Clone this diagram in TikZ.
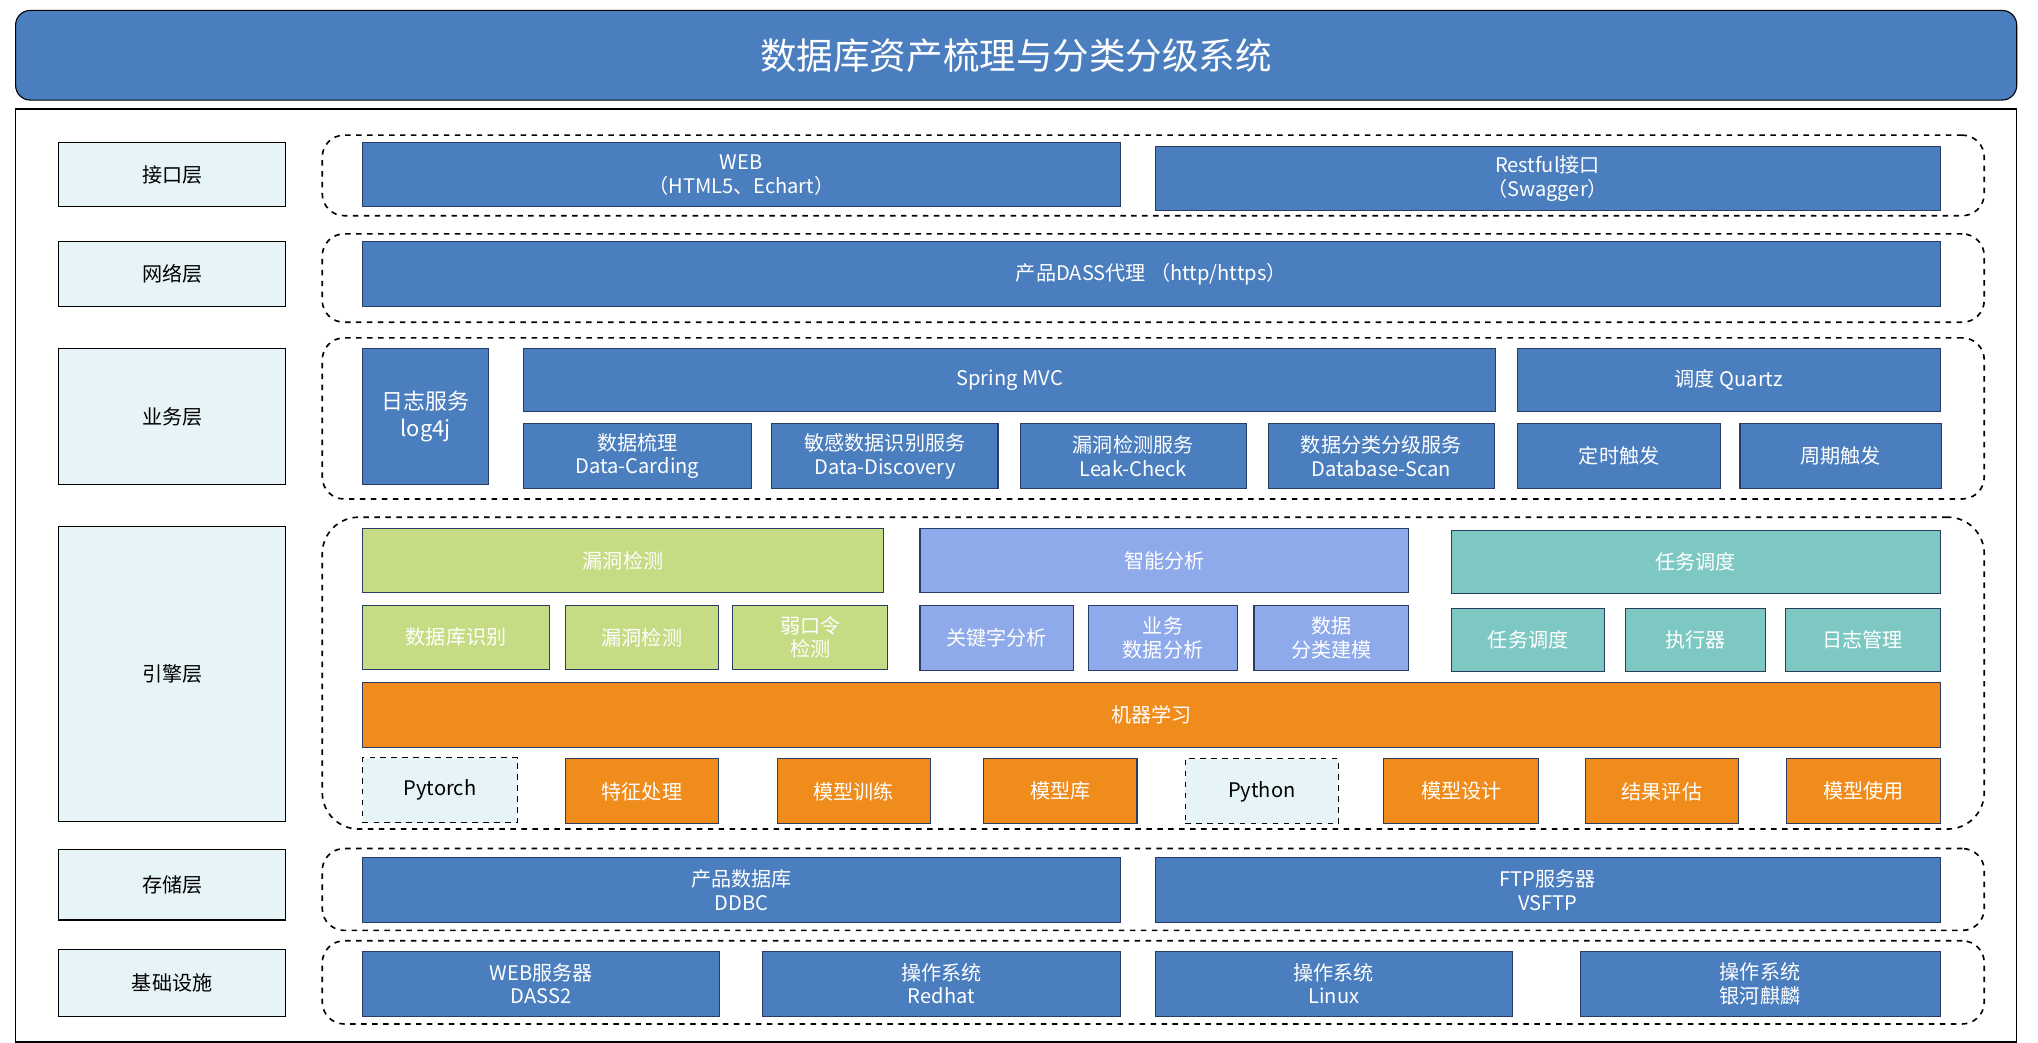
\documentclass[tikz,border=0pt]{standalone}
\usepackage{fontspec}
\setmainfont{Noto Sans CJK SC}
\begin{document}
\definecolor{bl}{RGB}{74,126,191}
\definecolor{bld}{RGB}{40,60,100}
\definecolor{lc}{RGB}{230,244,248}
\definecolor{gr}{RGB}{198,220,132}
\definecolor{pu}{RGB}{142,170,234}
\definecolor{te}{RGB}{126,200,196}
\definecolor{or}{RGB}{240,140,28}
\begin{tikzpicture}[
 base/.style={draw=bld,line width=0.6pt,inner sep=0pt,align=center,font=\fontsize{11}{13}\selectfont,text=white},
 blue/.style={base,fill=bl},
 lab/.style={base,draw=black,fill=lc,text=black},
 dlab/.style={base,draw=black,fill=lc,text=black,dashed},
 green/.style={base,fill=gr},
 purp/.style={base,fill=pu},
 teal/.style={base,fill=te},
 orng/.style={base,fill=or},
 grp/.style={draw=black,dashed,line width=0.9pt,rounded corners=12pt,inner sep=0pt},
]
\newcommand\bx[7]{\node[#1,minimum width={#4*0.025cm-#2*0.025cm},minimum height={#5*0.025cm-#3*0.025cm}] (#6) at ({(#2+#4)/2*0.025},{-(#3+#5)/2*0.025}) {#7};}
\useasboundingbox[fill=white] (0,0) rectangle (39.2,-20.05);
% title
\bx{blue,rounded corners=8pt,draw=black,font=\fontsize{20}{24}\selectfont}{12}{8}{1552}{77}{title}{数据库资产梳理与分类分级系统}
\bx{draw=black,line width=0.8pt,inner sep=0pt}{12}{84}{1552}{802}{frame}{}
% groups
\bx{grp}{248}{104}{1527}{166}{g1}{}
\bx{grp}{248}{180}{1527}{248}{g2}{}
\bx{grp}{248}{260}{1527}{384}{g3}{}
\bx{grp,rounded corners=20pt}{248}{398}{1527}{638}{g4}{}
\bx{grp}{248}{653}{1527}{716}{g5}{}
\bx{grp}{248}{724}{1527}{788}{g6}{}
% labels
\bx{lab}{45}{110}{220}{159}{l1}{接口层}
\bx{lab}{45}{186}{220}{236}{l2}{网络层}
\bx{lab}{45}{268}{220}{373}{l3}{业务层}
\bx{lab}{45}{405}{220}{632}{l4}{引擎层}
\bx{lab}{45}{654}{220}{708}{l5}{存储层}
\bx{lab}{45}{731}{220}{782}{l6}{基础设施}
% interface
\bx{blue}{279}{110}{862}{159}{web}{WEB\\（HTML5、Echart）}
\bx{blue}{889}{113}{1493}{162}{rest}{Restful接口\\（Swagger）}
\bx{blue}{279}{186}{1493}{236}{dass}{产品DASS代理 （http/https）}
% business
\bx{blue,font=\fontsize{12}{15}\selectfont}{279}{268}{376}{373}{log}{日志服务\\log4j}
\bx{blue}{403}{268}{1151}{317}{mvc}{Spring MVC}
\bx{blue}{1168}{268}{1493}{317}{quartz}{调度 Quartz}
\bx{blue}{403}{326}{578}{376}{b1}{数据梳理\\Data-Carding}
\bx{blue}{594}{326}{768}{376}{b2}{敏感数据识别服务\\Data-Discovery}
\bx{blue}{785}{326}{959}{376}{b3}{漏洞检测服务\\Leak-Check}
\bx{blue}{976}{326}{1150}{376}{b4}{数据分类分级服务\\Database-Scan}
\bx{blue}{1168}{326}{1324}{376}{b5}{定时触发}
\bx{blue}{1339}{326}{1494}{376}{b6}{周期触发}
% engine
\bx{green}{279}{407}{680}{456}{e1}{漏洞检测}
\bx{green}{279}{466}{423}{515}{e11}{数据库识别}
\bx{green}{435}{466}{553}{515}{e12}{漏洞检测}
\bx{green}{564}{466}{683}{515}{e13}{弱口令\\检测}
\bx{purp}{708}{407}{1084}{456}{e2}{智能分析}
\bx{purp}{708}{466}{826}{516}{e21}{关键字分析}
\bx{purp}{838}{466}{952}{516}{e22}{业务\\数据分析}
\bx{purp}{965}{466}{1084}{516}{e23}{数据\\分类建模}
\bx{teal}{1117}{408}{1493}{457}{e3}{任务调度}
\bx{teal}{1117}{468}{1235}{517}{e31}{任务调度}
\bx{teal}{1251}{468}{1359}{517}{e32}{执行器}
\bx{teal}{1374}{468}{1493}{517}{e33}{日志管理}
\bx{orng}{279}{525}{1493}{575}{ml}{机器学习}
\bx{dlab}{279}{583}{398}{633}{m1}{Pytorch}
\bx{orng}{435}{584}{553}{634}{m2}{特征处理}
\bx{orng}{598}{584}{716}{634}{m3}{模型训练}
\bx{orng}{757}{584}{875}{634}{m4}{模型库}
\bx{dlab}{912}{584}{1030}{634}{m5}{Python}
\bx{orng}{1065}{584}{1184}{634}{m6}{模型设计}
\bx{orng}{1220}{584}{1338}{634}{m7}{结果评估}
\bx{orng}{1375}{584}{1493}{634}{m8}{模型使用}
% storage
\bx{blue}{279}{660}{862}{710}{s1}{产品数据库\\DDBC}
\bx{blue}{889}{660}{1493}{710}{s2}{FTP服务器\\VSFTP}
% infra
\bx{blue}{279}{732}{554}{782}{i1}{WEB服务器\\DASS2}
\bx{blue}{587}{732}{862}{782}{i2}{操作系统\\Redhat}
\bx{blue}{889}{732}{1164}{782}{i3}{操作系统\\Linux}
\bx{blue}{1216}{732}{1493}{782}{i4}{操作系统\\银河麒麟}
\end{tikzpicture}
\end{document}
